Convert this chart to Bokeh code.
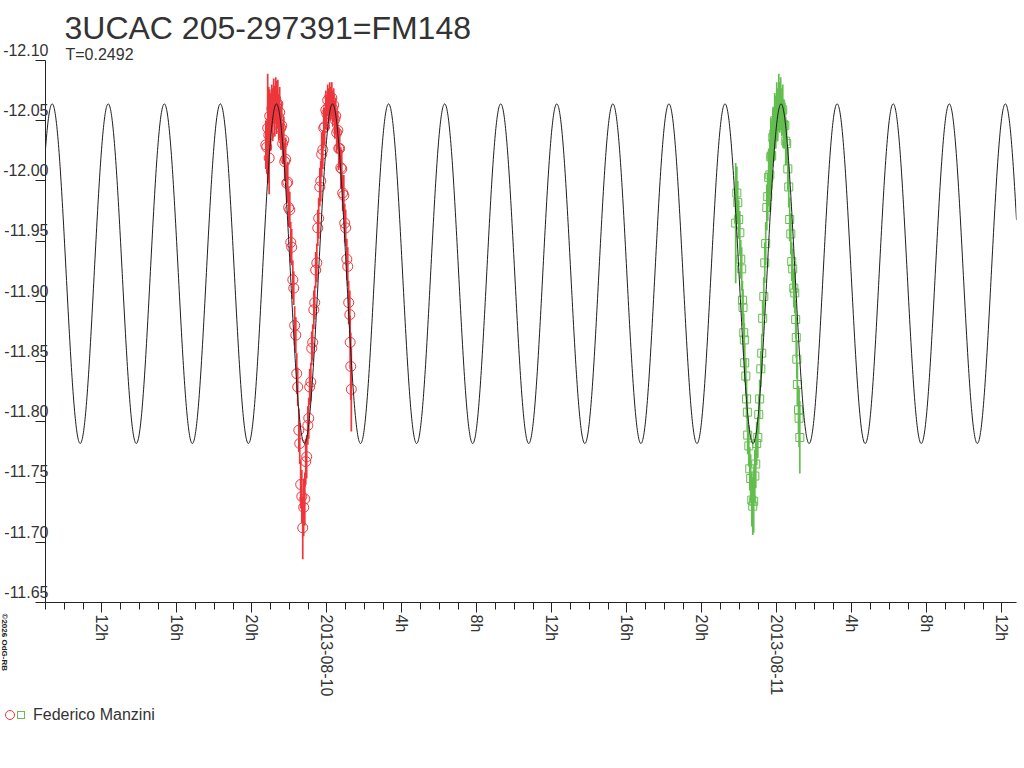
import math
import numpy as np
from bokeh.plotting import figure
from bokeh.models import Range1d, FixedTicker, Label, CustomJSTickFormatter, ColumnDataSource, Title, Div
from bokeh.layouts import column
from bokeh.embed import file_html
from bokeh.resources import INLINE

TITLE = "3UCAC 205-297391=FM148"
SUBTITLE = "T=0.2492"
OBSERVER = "Federico Manzini"
CREDIT = "\u00a92026 OdG-RB"

# x: hours UT counted from 2013-08-09 00:00
x_ticks = [12, 16, 20, 24, 28, 32, 36, 40, 44, 48, 52, 56, 60]
x_tick_labels = ["12h", "16h", "20h", "2013-08-10", "4h", "8h", "12h",
                 "16h", "20h", "2013-08-11", "4h", "8h", "12h"]
x_minor_ticks = list(range(9, 61))
x_start = 9.0

y_ticks = [-12.10, -12.05, -12.00, -11.95, -11.90, -11.85, -11.80, -11.75, -11.70, -11.65]
y_bottom, y_top = -11.65, -12.10

# fitted light-curve model (period T in days, double wave)
period_days = 0.2492
epoch_max_h = 21.317
mag_mean = -11.923
mag_amp = 0.141

# night 1 (red circles)
red_time = [20.75, 20.80, 20.85, 20.91, 20.93, 20.96, 21.01, 21.07, 21.12, 21.17,
            21.23, 21.28, 21.33, 21.39, 21.44, 21.49, 21.55, 21.60, 21.65, 21.71,
            21.76, 21.81, 21.87, 21.92, 21.97, 22.03, 22.08, 22.13, 22.19, 22.24,
            22.29, 22.35, 22.40, 22.45, 22.51, 22.56, 22.61, 22.67, 22.72, 22.77,
            22.83, 22.88, 22.93, 22.99, 23.04, 23.09, 23.15, 23.20, 23.25, 23.31,
            23.36, 23.41, 23.47, 23.52, 23.57, 23.63, 23.68, 23.73, 23.79, 23.84,
            23.89, 23.95, 24.00, 24.05, 24.11, 24.16, 24.21, 24.27, 24.32, 24.37,
            24.43, 24.48, 24.53, 24.59, 24.64, 24.69, 24.75, 24.80, 24.85, 24.91,
            24.96, 25.01, 25.07, 25.12, 25.17, 25.23, 25.25, 25.28, 25.31]
red_mag = [-12.030, -12.028, -12.044, -12.038, -12.019, -12.054, -12.049, -12.060, -12.055, -12.066,
           -12.058, -12.068, -12.061, -12.064, -12.053, -12.057, -12.044, -12.046, -12.031, -12.034,
           -12.016, -12.018, -11.998, -11.999, -11.978, -11.976, -11.949, -11.945, -11.918, -11.911,
           -11.880, -11.872, -11.840, -11.829, -11.793, -11.782, -11.748, -11.738, -11.712, -11.729,
           -11.736, -11.767, -11.771, -11.797, -11.803, -11.829, -11.833, -11.861, -11.866, -11.893,
           -11.899, -11.926, -11.932, -11.961, -11.969, -11.995, -12.000, -12.022, -12.026, -12.044,
           -12.045, -12.059, -12.056, -12.067, -12.062, -12.070, -12.064, -12.069, -12.060, -12.063,
           -12.051, -12.054, -12.040, -12.042, -12.027, -12.027, -12.011, -12.010, -11.990, -11.988,
           -11.965, -11.961, -11.935, -11.929, -11.899, -11.889, -11.866, -11.846, -11.827]
red_err = [0.020, 0.022, 0.045, 0.040, 0.030, 0.022, 0.024, 0.020, 0.022, 0.019,
           0.021, 0.018, 0.022, 0.020, 0.019, 0.021, 0.018, 0.020, 0.017, 0.019,
           0.016, 0.018, 0.015, 0.017, 0.016, 0.015, 0.017, 0.015, 0.016, 0.014,
           0.016, 0.015, 0.017, 0.016, 0.018, 0.017, 0.020, 0.022, 0.026, 0.024,
           0.022, 0.019, 0.018, 0.016, 0.017, 0.015, 0.016, 0.014, 0.015, 0.016,
           0.014, 0.015, 0.016, 0.015, 0.017, 0.016, 0.017, 0.018, 0.016, 0.017,
           0.015, 0.016, 0.014, 0.013, 0.015, 0.012, 0.014, 0.013, 0.015, 0.014,
           0.016, 0.015, 0.017, 0.016, 0.018, 0.016, 0.017, 0.016, 0.015, 0.017,
           0.016, 0.015, 0.017, 0.016, 0.018, 0.020, 0.022, 0.028, 0.035]

# night 2 (green squares)
green_time = [45.81, 45.87, 45.92, 45.97, 46.03, 46.08, 46.13, 46.17, 46.20, 46.24,
              46.27, 46.29, 46.35, 46.39, 46.43, 46.45, 46.51, 46.56, 46.61, 46.67,
              46.72, 46.77, 46.83, 46.88, 46.93, 46.99, 47.04, 47.09, 47.15, 47.20,
              47.25, 47.31, 47.36, 47.41, 47.47, 47.52, 47.57, 47.63, 47.68, 47.73,
              47.79, 47.84, 47.89, 47.95, 48.00, 48.05, 48.11, 48.16, 48.21, 48.27,
              48.32, 48.37, 48.43, 48.48, 48.53, 48.59, 48.64, 48.69, 48.75, 48.80,
              48.85, 48.91, 48.96, 49.01, 49.04, 49.07, 49.10, 49.16, 49.19, 49.23]
green_mag = [-11.965, -11.990, -11.982, -11.968, -11.957, -11.935, -11.927, -11.901, -11.895, -11.874,
             -11.868, -11.849, -11.838, -11.819, -11.808, -11.789, -11.780, -11.761, -11.753, -11.735,
             -11.730, -11.734, -11.755, -11.765, -11.782, -11.787, -11.806, -11.819, -11.844, -11.857,
             -11.886, -11.904, -11.932, -11.948, -11.978, -11.987, -12.003, -12.005, -12.020, -12.021,
             -12.036, -12.039, -12.050, -12.049, -12.058, -12.055, -12.065, -12.061, -12.064, -12.057,
             -12.059, -12.047, -12.046, -12.033, -12.031, -12.010, -11.995, -11.968, -11.956, -11.933,
             -11.927, -11.911, -11.907, -11.885, -11.870, -11.852, -11.831, -11.810, -11.803, -11.787]
green_err = [0.050, 0.022, 0.018, 0.016, 0.018, 0.016, 0.018, 0.016, 0.015, 0.016,
             0.014, 0.016, 0.015, 0.016, 0.015, 0.016, 0.017, 0.018, 0.020, 0.022,
             0.024, 0.026, 0.022, 0.020, 0.018, 0.017, 0.016, 0.016, 0.015, 0.016,
             0.015, 0.016, 0.017, 0.018, 0.019, 0.020, 0.024, 0.030, 0.032, 0.028,
             0.024, 0.022, 0.023, 0.022, 0.024, 0.022, 0.024, 0.021, 0.022, 0.020,
             0.021, 0.020, 0.019, 0.020, 0.018, 0.018, 0.017, 0.018, 0.017, 0.016,
             0.017, 0.016, 0.017, 0.016, 0.017, 0.016, 0.018, 0.020, 0.024, 0.030]

RED = "#ee363c"
GREEN = "#63be4f"
INK = "#333333"
FONT = "Liberation Sans"

FRAME_W = 971
PX_PER_H = 18.75
x_end = x_start + FRAME_W / PX_PER_H

p = figure(frame_width=FRAME_W, frame_height=542,
           x_range=Range1d(x_start, x_end), y_range=Range1d(y_bottom, y_top),
           output_backend="svg", toolbar_location=None,
           min_border_left=45, min_border_right=0, min_border_top=60, min_border_bottom=0)
p.grid.visible = False
p.outline_line_color = None
p.background_fill_color = "white"
p.border_fill_color = "white"

p.title.text = TITLE
p.title.align = "left"
p.title.offset = 19
p.title.standoff = -1
p.title.text_font = FONT
p.title.text_font_size = "32px"
p.title.text_font_style = "normal"
p.title.text_color = INK
p.add_layout(Title(text=SUBTITLE, align="left", offset=20, standoff=-4,
                   text_font=FONT, text_font_size="16px", text_font_style="normal",
                   text_color=INK), "above")

xa = p.xaxis[0]
xa.ticker = FixedTicker(ticks=x_ticks, minor_ticks=x_minor_ticks)
xa.major_label_overrides = dict(zip(x_ticks, x_tick_labels))
xa.major_label_orientation = -math.pi / 2
xa.major_tick_out = 10
xa.major_tick_in = 0
xa.minor_tick_out = 7
xa.minor_tick_in = 0
xa.major_label_standoff = 2
xa.axis_line_color = "#222222"
xa.major_tick_line_color = "#222222"
xa.minor_tick_line_color = "#222222"
xa.major_label_text_font = FONT
xa.major_label_text_font_size = "16px"
xa.major_label_text_color = INK

ya = p.yaxis[0]
ya.ticker = FixedTicker(ticks=y_ticks, minor_ticks=[])
ya.formatter = CustomJSTickFormatter(code="return tick.toFixed(2) + '\\n\\u00a0';")
ya.major_tick_out = 10
ya.major_tick_in = 0
ya.minor_tick_out = 0
ya.minor_tick_in = 0
ya.major_label_standoff = -13
ya.axis_line_color = "#222222"
ya.major_tick_line_color = "#222222"
ya.major_label_text_font = FONT
ya.major_label_text_font_size = "16px"
ya.major_label_text_color = INK

red_src = ColumnDataSource(dict(t=red_time, m=red_mag,
                                lo=[m - e for m, e in zip(red_mag, red_err)],
                                hi=[m + e for m, e in zip(red_mag, red_err)]))
green_src = ColumnDataSource(dict(t=green_time, m=green_mag,
                                  lo=[m - e for m, e in zip(green_mag, green_err)],
                                  hi=[m + e for m, e in zip(green_mag, green_err)]))

p.scatter("t", "m", source=red_src, marker="circle", size=10,
          fill_color=None, line_color=RED, line_width=1)
p.segment(x0="t", y0="lo", x1="t", y1="hi", source=red_src, line_color=RED, line_width=1.7)
p.scatter("t", "m", source=green_src, marker="square", size=8,
          fill_color=None, line_color=GREEN, line_width=1)
p.segment(x0="t", y0="lo", x1="t", y1="hi", source=green_src, line_color=GREEN, line_width=1.7)

half_period_h = period_days * 24.0 / 2.0
model_t = np.linspace(x_start, x_end, 3000)
model_m = mag_mean - mag_amp * np.cos(2 * np.pi * (model_t - epoch_max_h) / half_period_h)
p.line(model_t, model_m, line_color="#1e1e1e", line_width=1)

# credit text: kept in a thin right-hand panel, drawn at the far left edge
p.add_layout(Label(x=4 - 45 - FRAME_W, y=-11, x_units="screen", y_units="screen", text=CREDIT,
                   angle=-math.pi / 2, text_font=FONT, text_font_size="8px",
                   text_font_style="bold", text_color="#222222",
                   text_baseline="middle", text_align="left"), "right")

legend_html = (
    '<div style="display:flex;align-items:center;height:32px;'
    'font-family:\'Liberation Sans\';font-size:16px;color:#333333;">'
    '<svg width="33" height="16" style="flex:none">'
    f'<circle cx="10" cy="8" r="4.5" fill="none" stroke="{RED}" stroke-width="1"/>'
    f'<rect x="17.5" y="4.5" width="7" height="7" fill="none" stroke="{GREEN}" stroke-width="1"/>'
    '</svg>'
    f'<span>{OBSERVER}</span></div>'
)
legend_div = Div(text=legend_html, width=1020, height=32, margin=0)

layout = column(p, legend_div, spacing=0)
open("out.html", "w").write(file_html(layout, INLINE))
